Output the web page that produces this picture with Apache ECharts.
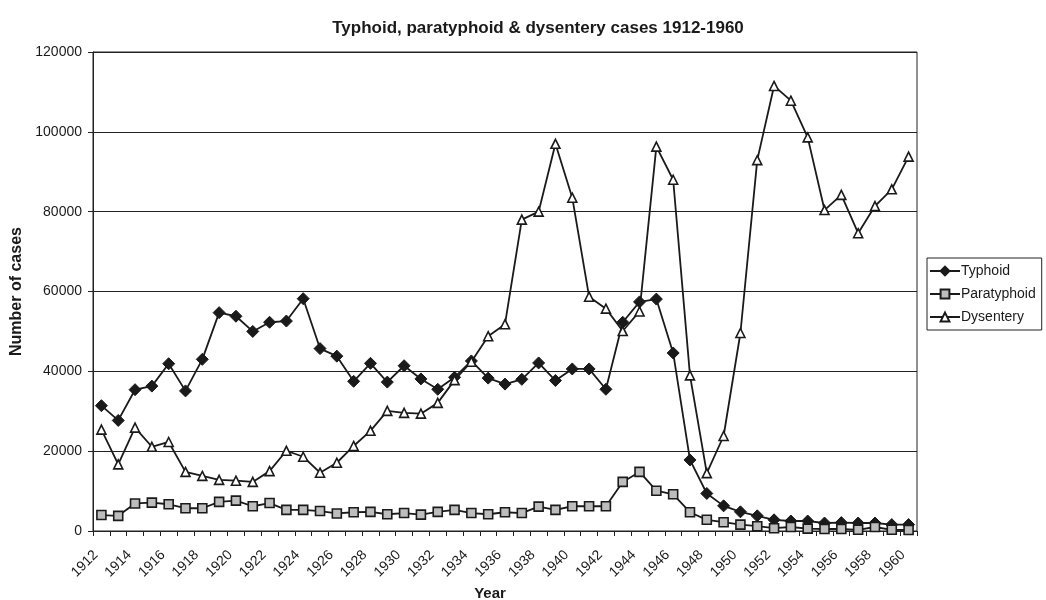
<!DOCTYPE html>
<html>
<head>
<meta charset="utf-8">
<script src="https://cdn.jsdelivr.net/npm/echarts@6/dist/echarts.min.js"></script>
<style>
html,body{margin:0;padding:0;background:#fff;}
#chart{width:1046px;height:600px;}
</style>
</head>
<body>
<div id="chart"></div>
<script>
var years = [];
for (var y = 1912; y <= 1960; y++) years.push(String(y));

var typhoid = [31400, 27700, 35400, 36300, 41900, 35100, 43000, 54700, 53800, 50000,
  52300, 52600, 58200, 45700, 43800, 37500, 42000, 37300, 41400, 38100,
  35500, 38500, 42600, 38300, 36800, 38000, 42100, 37700, 40600, 40600,
  35500, 52300, 57400, 58100, 44600, 17800, 9400, 6300, 4800, 3800,
  2800, 2500, 2500, 2000, 2100, 2000, 2000, 1600, 1600];

var paratyphoid = [4000, 3800, 6900, 7100, 6700, 5700, 5700, 7300, 7600, 6200,
  7000, 5300, 5300, 5000, 4400, 4700, 4800, 4200, 4500, 4100,
  4800, 5300, 4500, 4200, 4700, 4500, 6100, 5300, 6200, 6200,
  6200, 12300, 14800, 10100, 9200, 4700, 2800, 2200, 1600, 1200,
  700, 1000, 600, 500, 500, 300, 1000, 300, 250];

var dysentery = [25400, 16700, 25900, 21100, 22300, 14800, 13800, 12800, 12600, 12300,
  15000, 20100, 18600, 14600, 17100, 21300, 25100, 30100, 29600, 29400,
  32100, 37800, 42400, 48800, 51800, 78000, 80000, 97000, 83500, 58700,
  55700, 50100, 55000, 96300, 88000, 39000, 14500, 23800, 49600, 92900,
  111500, 107800, 98600, 80400, 84200, 74600, 81400, 85600, 93800];

var seriesNames = ['Typhoid', 'Paratyphoid', 'Dysentery'];
var yTicks = [0, 20000, 40000, 60000, 80000, 100000, 120000];

var font = '"Liberation Sans", Arial, sans-serif';
var ink = '#1a1a1a';

var chart = echarts.init(document.getElementById('chart'), null, {renderer: 'canvas'});
chart.setOption({
  animation: false,
  backgroundColor: '#fff',
  title: {
    text: 'Typhoid, paratyphoid & dysentery cases 1912-1960',
    left: 533, top: 15, textAlign: 'center',
    textStyle: {fontFamily: font, fontSize: 17, fontWeight: 'bold', color: ink}
  },
  legend: {
    orient: 'vertical',
    left: 927, top: 258,
    data: seriesNames,
    itemWidth: 30, itemHeight: 11, itemGap: 9,
    padding: [6, 6, 6, 2],
    borderColor: '#222', borderWidth: 1,
    textStyle: {fontFamily: font, fontSize: 14, color: ink, padding: [0, 0, 0, -4]}
  },
  grid: {
    left: 93, right: 129, top: 52, bottom: 69,
    containLabel: false, outerBoundsMode: 'none',
    show: true, borderColor: '#222', borderWidth: 1
  },
  xAxis: {
    type: 'category',
    data: years,
    boundaryGap: true,
    name: 'Year', nameLocation: 'middle', nameGap: 55,
    nameTextStyle: {fontFamily: font, fontSize: 15, fontWeight: 'bold', color: ink, padding: [0, 30, 0, 0]},
    axisLine: {lineStyle: {color: '#222', width: 1}},
    axisTick: {show: true, interval: 0, length: 5, lineStyle: {color: '#222'}},
    axisLabel: {interval: 1, rotate: 45, fontFamily: font, fontSize: 14, color: ink, margin: 16, padding: [0, 8, 0, 0]},
    splitLine: {show: false}
  },
  yAxis: {
    type: 'value',
    min: yTicks[0], max: yTicks[yTicks.length - 1], interval: 20000,
    name: 'Number of cases', nameLocation: 'middle', nameGap: 60, nameRotate: 90,
    nameTextStyle: {fontFamily: font, fontSize: 16, fontWeight: 'bold', color: ink},
    axisLine: {show: true, lineStyle: {color: '#222', width: 1}},
    axisTick: {show: true, length: 5, lineStyle: {color: '#222'}},
    axisLabel: {fontFamily: font, fontSize: 14, color: ink, margin: 11,
      formatter: function (v) { return String(v); }},
    splitLine: {show: true, lineStyle: {color: '#222', width: 1}}
  },
  series: [
    {
      name: seriesNames[0], type: 'line', data: typhoid,
      symbol: 'diamond', symbolSize: 12, showAllSymbol: true,
      lineStyle: {color: ink, width: 1.8},
      itemStyle: {color: ink, borderColor: ink, borderWidth: 1}
    },
    {
      name: seriesNames[1], type: 'line', data: paratyphoid,
      symbol: 'rect', symbolSize: 9, showAllSymbol: true,
      lineStyle: {color: ink, width: 1.8},
      itemStyle: {color: '#bdbdbd', borderColor: ink, borderWidth: 1.6}
    },
    {
      name: seriesNames[2], type: 'line', data: dysentery,
      symbol: 'triangle', symbolSize: 9, showAllSymbol: true,
      lineStyle: {color: ink, width: 1.8},
      itemStyle: {color: '#fff', borderColor: ink, borderWidth: 1.6}
    }
  ]
});
</script>
</body>
</html>
